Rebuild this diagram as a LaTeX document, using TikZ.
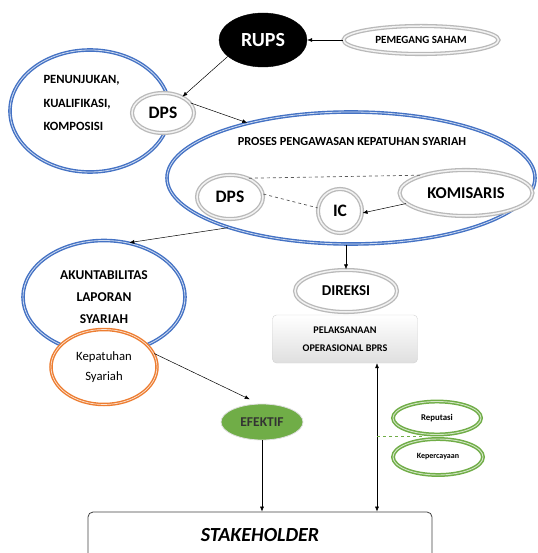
\documentclass[tikz,border=0pt]{standalone}
\usepackage{fontspec}
\setmainfont{Carlito}
\usetikzlibrary{shapes.geometric, arrows.meta, calc}
\definecolor{ringblue}{RGB}{68,114,196}
\definecolor{ringorange}{RGB}{237,125,49}
\definecolor{ringgreen}{RGB}{112,173,71}
\tikzset{
  txt/.style 2 args={font=\bfseries\fontsize{#1}{#2}\selectfont},
  grayring/.style={ellipse, draw=gray!55, line width=1.3pt, double=gray!10, double distance=1.5pt, inner sep=0pt, fill=white},
  bluering/.style={ellipse, draw=ringblue, line width=1.4pt, double=ringblue!25, double distance=0.8pt, inner sep=0pt},
  orangering/.style={ellipse, draw=ringorange, line width=1.4pt, double=ringorange!20, double distance=0.7pt, inner sep=0pt, fill=white},
  greenring/.style={ellipse, draw=ringgreen, line width=1.5pt, double=ringgreen!30, double distance=0.9pt, inner sep=0pt, fill=white},
  arr/.style={-{Latex[length=5pt,width=4pt]}, line width=0.5pt},
}
\begin{document}
\begin{tikzpicture}[x=1pt,y=-1pt]
\useasboundingbox (0,0) rectangle (537,553);
% top: RUPS and DPS
\node[ellipse, fill=black, draw=black, minimum width=88pt, minimum height=54pt, inner sep=0pt, text=white, txt={20}{24}] (rups) at (263,40) {RUPS};
\node[grayring, minimum width=155pt, minimum height=28pt, txt={11}{13}] (holder) at (421,40) {PEMEGANG SAHAM};
\node[bluering, minimum width=160pt, minimum height=122pt] (leftring) at (90,111) {};
\node[anchor=west, align=left, txt={12.6}{23.5}] (roles) at (40,103) {PENUNJUKAN,\\KUALIFIKASI,\\KOMPOSISI};
\node[grayring, minimum width=62pt, minimum height=40pt, txt={17.5}{20}] (dps1) at (163,113) {DPS};
% pengawasan
\node[bluering, minimum width=368pt, minimum height=132pt] (proses) at (351,178) {};
\node[txt={12.3}{14}] (title) at (352,142) {PROSES PENGAWASAN KEPATUHAN SYARIAH};
\node[grayring, minimum width=66pt, minimum height=44pt, txt={17.5}{20}] (dps2) at (230,197) {DPS};
\node[grayring, minimum width=44pt, minimum height=44pt, txt={17.5}{20}] (ic) at (340,211) {IC};
\node[grayring, minimum width=133pt, minimum height=46pt, txt={16.5}{19}] (kom) at (466,193) {KOMISARIS};
% left column
\node[bluering, minimum width=162pt, minimum height=113pt, align=center, txt={13.5}{22}] (akun) at (104,297) {AKUNTABILITAS\\LAPORAN\\SYARIAH};
\node[orangering, minimum width=106pt, minimum height=75pt, align=center, font=\fontsize{12.7}{20}\selectfont] (kep) at (104,367) {Kepatuhan\\Syariah};
\node[ellipse, fill=ringgreen, draw=gray!25, line width=0.8pt, minimum width=82pt, minimum height=36pt, inner sep=0pt, text=black!80, txt={13.5}{15}] (ef) at (262,422) {EFEKTIF};
% right column
\node[grayring, minimum width=102pt, minimum height=42pt, txt={15}{17}] (direksi) at (346,291) {DIREKSI};
\node[rectangle, rounded corners=4pt, draw=gray!35, top color=white, bottom color=gray!25, minimum width=145pt, minimum height=48pt, align=center, txt={10.2}{18}] (ops) at (345,339) {PELAKSANAAN\\OPERASIONAL BPRS};
\node[greenring, minimum width=88pt, minimum height=33pt, txt={8.8}{10}] (rep) at (437,418) {Reputasi};
\node[greenring, minimum width=90pt, minimum height=36pt, txt={8}{9}] (trust) at (438,457) {Kepercayaan};
\node[rectangle, rounded corners=5pt, draw=black!75, line width=0.8pt, minimum width=344pt, minimum height=46pt, font=\bfseries\itshape\fontsize{20}{24}\selectfont] (stake) at (260,535) {STAKEHOLDER};
% connectors
\draw[arr] (holder.west) -- (rups.east);
\draw[arr] (rups.205) -- (dps1.40);
\draw[arr] (dps1.20) -- (proses.152);
\draw[dashed, gray!70!black, line width=0.7pt] (dps2.45) -- (kom.158);
\draw[dashed, gray!70!black, line width=0.7pt] (dps2.5) -- (ic.172);
\draw[arr] (kom.190) -- (ic.355);
\draw[arr] (proses.202) -- (akun.65);
\draw[arr] (direksi.north |- proses.south) -- (direksi.north);
\draw[arr, shorten >=10pt] (kep.15) -- (ef.100);
\draw[arr] (ef.south) -- (ef.south |- stake.north);
\draw[{Latex[length=5pt,width=4pt]}-{Latex[length=5pt,width=4pt]}, line width=0.5pt] ([xshift=32pt]ops.south) -- ([xshift=32pt]ops.south |- stake.north);
\coordinate (gap) at ($(rep.south)!0.5!(trust.north)$);
\draw[dashed, ringgreen, line width=1.2pt] ([xshift=32pt]ops.south |- gap) -- ([xshift=-15pt]gap);
\end{tikzpicture}
\end{document}
